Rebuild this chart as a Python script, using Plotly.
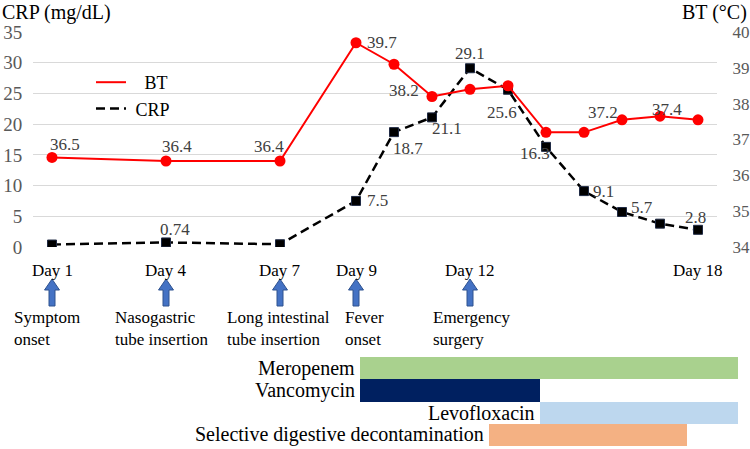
import plotly.graph_objects as go

# ---------------- data ----------------
days = [1, 4, 7, 9, 10, 11, 12, 13, 14, 15, 16, 17, 18]
bt = [36.5, 36.4, 36.4, 39.7, 39.1, 38.2, 38.4, 38.5, 37.2, 37.2, 37.55, 37.65, 37.55]
crp = [0.4, 0.74, 0.45, 7.5, 18.7, 21.1, 29.1, 25.6, 16.3, 9.1, 5.7, 3.8, 2.8]
bt_labels = ["36.5", "36.4", "36.4", "39.7", "", "38.2", "", "", "", "37.2", "", "37.4", ""]
crp_labels = ["", "0.74", "", "7.5", "18.7", "21.1", "29.1", "25.6", "16.3", "9.1", "5.7", "", "2.8"]

tick_days = [1, 4, 7, 9, 12, 18]
tick_text = ["Day 1", "Day 4", "Day 7", "Day 9", "Day 12", "Day 18"]

event_days = [1, 4, 7, 9, 12]
event_text = ["Symptom<br>onset", "Nasogastric<br>tube insertion",
              "Long intestinal<br>tube insertion", "Fever<br>onset",
              "Emergency<br>surgery"]

drugs = ["Meropenem", "Vancomycin", "Levofloxacin", "Selective digestive decontamination"]
drug_start = [9.1, 9.1, 13.85, 12.5]
drug_end = [19.05, 13.85, 19.05, 17.7]

# ---------------- styles / layout helpers ----------------
W, H = 750, 449
ML, MR, MT, MB = 33, 10, 32, 0
PW, PH = W - ML - MR, H - MT - MB
PLOT_RIGHT = 717
PLOT_BOTTOM = 247
PX_PER_DAY = (PLOT_RIGHT - ML) / 18.0


def px(p):
    return (p - ML) / PW


def py(p):
    return (H - MB - p) / PH


FONT = "Times New Roman, Liberation Serif, serif"
GRAY = "#595959"
LBL = "#404040"
NB = "\u00a0"

bt_off = [(13, 13), (11, 15), (-11, 15), (26, 0), (0, 0), (-28, 6), (0, 0), (0, 0),
          (0, 0), (19, 20), (0, 0), (7, 7), (0, 0)]
crp_off = [(0, 0), (9, 13), (0, 0), (21, 0), (14, -16), (15, -11), (0, 15), (-6, -23),
           (-11, -7), (19, 0), (20, 4), (0, 0), (-3, 12)]
event_shift = [-5, -4, -2, 8, 2]
drug_colors = ["#A9D18E", "#002060", "#BDD7EE", "#F4B183"]

fig = go.Figure()

# legend-only traces
fig.add_trace(go.Scatter(x=[None], y=[None], mode="lines", name=NB * 3 + "BT",
                         line=dict(color="#FF0000", width=2), xaxis="x", yaxis="y2"))
fig.add_trace(go.Scatter(x=[None], y=[None], mode="lines", name=NB + "CRP",
                         line=dict(color="black", width=2.5, dash="9px,5px"), xaxis="x", yaxis="y"))

fig.add_trace(go.Scatter(x=days, y=bt, mode="lines+markers", showlegend=False,
                         line=dict(color="#FF0000", width=2),
                         marker=dict(symbol="circle", size=11, color="#FF0000"),
                         xaxis="x", yaxis="y2"))
fig.add_trace(go.Scatter(x=days, y=crp, mode="lines+markers", showlegend=False,
                         line=dict(color="black", width=2.5, dash="9px,5px"),
                         marker=dict(symbol="square", size=9, color="black",
                                     line=dict(color="#1F2A44", width=1)),
                         xaxis="x", yaxis="y"))

# gantt bars
fig.add_trace(go.Bar(y=list(range(len(drugs))),
                     x=[e - s for s, e in zip(drug_start, drug_end)],
                     base=drug_start, orientation="h", width=1.0,
                     marker=dict(color=drug_colors, line=dict(width=0)),
                     showlegend=False, xaxis="x3", yaxis="y3"))

ann = []
for d, v, t, (dx, dy) in zip(days, bt, bt_labels, bt_off):
    if t:
        ann.append(dict(x=d, y=v, xref="x", yref="y2", text=t, showarrow=False,
                        xshift=dx, yshift=dy, font=dict(family=FONT, size=17, color=LBL)))
for d, v, t, (dx, dy) in zip(days, crp, crp_labels, crp_off):
    if t:
        ann.append(dict(x=d, y=v, xref="x", yref="y", text=t, showarrow=False,
                        xshift=dx, yshift=dy, font=dict(family=FONT, size=17, color=LBL)))

for d, t in zip(tick_days, tick_text):
    ann.append(dict(x=d, y=py(270), xref="x", yref="paper", text=t, showarrow=False,
                    yanchor="middle", font=dict(family=FONT, size=17, color="black")))

for d, t, s in zip(event_days, event_text, event_shift):
    ann.append(dict(x=d, y=py(328), xref="x", yref="paper", text=t, showarrow=False,
                    yanchor="middle", xanchor="center", align="left", xshift=s,
                    font=dict(family=FONT, size=17, color="black")))

for i, (name, s) in enumerate(zip(drugs, drug_start)):
    ann.append(dict(x=s, y=i, xref="x3", yref="y3", text=name, showarrow=False,
                    xanchor="right", xshift=-3, yanchor="middle",
                    font=dict(family=FONT, size=20, color="black")))

ann.append(dict(x=px(0), y=py(12), xref="paper", yref="paper", text="CRP (mg/dL)",
                showarrow=False, xanchor="left", yanchor="middle",
                font=dict(family=FONT, size=20, color="black")))
ann.append(dict(x=px(749), y=py(12), xref="paper", yref="paper", text="BT (°C)",
                showarrow=False, xanchor="right", yanchor="middle",
                font=dict(family=FONT, size=20, color="black")))

shapes = []
yt, yh, yb = py(279), py(290), py(306)
for d in event_days:
    path = (f"M-3,{yb} L-3,{yh} L-7.5,{yh} L0,{yt} L7.5,{yh} L3,{yh} L3,{yb} Z")
    shapes.append(dict(type="path", xref="x", yref="paper", xsizemode="pixel", xanchor=d,
                       path=path, fillcolor="#4472C4", line=dict(color="#2F528F", width=1)))

fig.update_layout(
    width=W, height=H, template="none",
    margin=dict(l=ML, r=MR, t=MT, b=MB),
    paper_bgcolor="white", plot_bgcolor="rgba(0,0,0,0)",
    font=dict(family=FONT),
    showlegend=True,
    legend=dict(x=px(91), y=py(64), xanchor="left", yanchor="top",
                font=dict(family=FONT, size=18, color="black"),
                bgcolor="rgba(0,0,0,0)", tracegroupgap=0),
    xaxis=dict(domain=[0, px(PLOT_RIGHT)], range=[0.5, 18.5], showgrid=False,
               showticklabels=False, zeroline=False, showline=False, anchor="y"),
    yaxis=dict(domain=[py(PLOT_BOTTOM), 1], range=[0, 35], dtick=5, showgrid=True,
               gridcolor="#D9D9D9", gridwidth=1, zeroline=False, showline=False,
               ticks="outside", ticklen=6, tickcolor="rgba(0,0,0,0)",
               tickfont=dict(family=FONT, size=19, color=GRAY), anchor="x"),
    yaxis2=dict(overlaying="y", side="right", range=[34, 40], dtick=1, showgrid=False,
                zeroline=False, showline=False, ticks="outside", ticklen=11,
                tickcolor="rgba(0,0,0,0)", anchor="x",
                tickfont=dict(family=FONT, size=17, color=GRAY)),
    xaxis3=dict(domain=[0, 1], range=[0.5, 0.5 + PW / PX_PER_DAY], visible=False,
                anchor="y3"),
    yaxis3=dict(domain=[py(446), py(357)], range=[3.5, -0.5], visible=False,
                anchor="x3"),
    bargap=0,
    annotations=ann,
    shapes=shapes,
)

fig.write_html("out.html")
